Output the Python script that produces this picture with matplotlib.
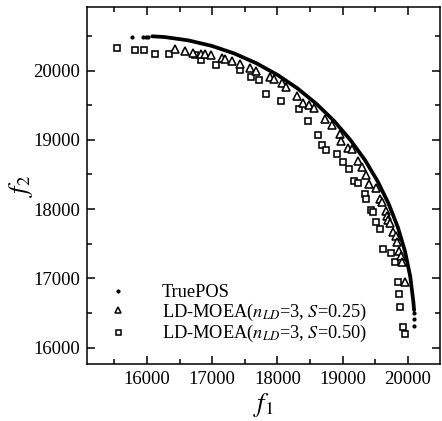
import matplotlib
matplotlib.use("Agg")
import matplotlib.pyplot as plt
from matplotlib.lines import Line2D
from matplotlib.ticker import MultipleLocator

plt.rcParams['font.family'] = ['Liberation Serif', 'DejaVu Serif']
plt.rcParams['mathtext.fontset'] = 'stix'

# TruePOS (dense part)
true_f1 = [16080, 16266, 16629, 16987, 17336, 17675, 18000, 18309, 18600, 18870,
           19117, 19341, 19537, 19706, 19847, 19957, 20036, 20084, 20096]
true_f2 = [20494, 20484, 20436, 20357, 20247, 20106, 19937, 19741, 19517, 19270,
           18999, 18709, 18400, 18075, 17736, 17387, 17029, 16666, 16540]
# TruePOS (isolated points at the ends)
true_sparse_f1 = [15775, 15940, 15980, 16020, 20100, 20100, 20095]
true_sparse_f2 = [20482, 20485, 20487, 20488, 16500, 16410, 16314]

# LD-MOEA S=0.25 (triangles)
s025_f1 = [16436, 16582, 16704, 16834, 16888, 16980, 17144, 17194, 17297, 17428,
           17577, 17672, 17879, 17947, 18067, 18136, 18301, 18385, 18477, 18561,
           18733, 18832, 18955, 18981, 19077, 19139, 19235, 19295, 19364, 19410,
           19511, 19572, 19606, 19670, 19685, 19697, 19728, 19771, 19812, 19832,
           19861, 19889, 19915, 19950]
s025_f2 = [20310, 20279, 20247, 20241, 20237, 20227, 20188, 20166, 20140, 20100,
           20043, 19991, 19902, 19877, 19815, 19765, 19635, 19534, 19500, 19457,
           19300, 19216, 19079, 18985, 18884, 18866, 18689, 18602, 18494, 18364,
           18302, 18150, 18108, 17974, 17905, 17844, 17794, 17671, 17613, 17531,
           17399, 17324, 17230, 16949]

# LD-MOEA S=0.50 (squares)
s050_f1 = [15545, 15816, 15959, 16122, 16341, 16743, 16827, 17052, 17431, 17597,
           17715, 17822, 18062, 18330, 18465, 18618, 18687, 18744, 18917, 19005,
           19103, 19172, 19243, 19345, 19364, 19440, 19460, 19514, 19572, 19625,
           19739, 19809, 19843, 19861, 19886, 19924, 19962]
s050_f2 = [20323, 20299, 20299, 20245, 20238, 20219, 20150, 20082, 20010, 19913,
           19866, 19664, 19562, 19451, 19264, 19076, 18927, 18855, 18797, 18686,
           18578, 18400, 18374, 18212, 18143, 17989, 17952, 17820, 17710, 17421,
           17363, 17228, 16949, 16768, 16581, 16292, 16198]

labels = ['TruePOS',
          r'LD-MOEA($n_{LD}$=3, $S$=0.25)',
          r'LD-MOEA($n_{LD}$=3, $S$=0.50)']

fig = plt.figure(figsize=(4.42, 4.21), dpi=100)
ax = fig.add_axes([0.197, 0.135, 0.798, 0.848])

ax.plot(true_f1, true_f2, color='black', lw=2.7, solid_capstyle='round', zorder=3)
ax.plot(true_sparse_f1, true_sparse_f2, linestyle='none', marker='o', ms=2.0,
        color='black', zorder=3)
ax.plot(s025_f1, s025_f2, linestyle='none', marker='^', ms=5.3, mfc='white',
        mec='black', mew=1.15, zorder=2)
ax.plot(s050_f1, s050_f2, linestyle='none', marker='s', ms=4.3, mfc='white',
        mec='black', mew=1.15, zorder=1)

ax.set_xlim(15080, 20490)
ax.set_ylim(15760, 20915)
ax.xaxis.set_major_locator(MultipleLocator(1000))
ax.xaxis.set_minor_locator(MultipleLocator(500))
ax.yaxis.set_major_locator(MultipleLocator(1000))
ax.yaxis.set_minor_locator(MultipleLocator(500))
ax.tick_params(which='both', direction='in', top=True, right=True,
               labelsize=13.5, width=1.1)
ax.tick_params(which='major', length=6, pad=5)
ax.tick_params(which='minor', length=3.5)
for s in ax.spines.values():
    s.set_linewidth(1.1)

ax.set_xlabel(r'$f_1$', fontsize=19, labelpad=2)
ax.set_ylabel(r'$f_2$', fontsize=19, labelpad=-1)

handles = [
    Line2D([], [], linestyle='none', marker='o', ms=2.0, color='black'),
    Line2D([], [], linestyle='none', marker='^', ms=4.3, mfc='white', mec='black', mew=1.1),
    Line2D([], [], linestyle='none', marker='s', ms=3.6, mfc='white', mec='black', mew=1.1),
]
ax.legend(handles, labels, loc='lower left', bbox_to_anchor=(0.025, 0.02),
          frameon=False, fontsize=13.2, handlelength=1.0, handletextpad=1.9,
          labelspacing=0.02, borderaxespad=0.3)

fig.savefig('out.png', dpi=100)
